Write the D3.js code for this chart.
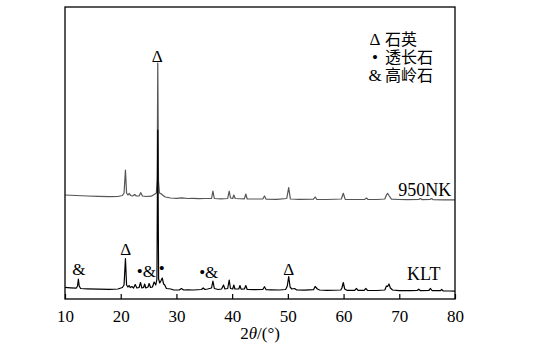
<!DOCTYPE html>
<html>
<head>
<meta charset="utf-8">
<script src="https://cdn.jsdelivr.net/npm/d3@7"></script>
<style>
    html, body { margin: 0; padding: 0; background: #fff; }
    svg { display: block; }
</style>
</head>
<body>
<div id="div-xrd"></div>
<script>
"use strict";

const SERIF = "'Liberation Serif', 'Times New Roman', serif";
const CJK = "'Noto Sans CJK SC', sans-serif";

// x axis ticks (2θ, degrees)
const xTicks = [10, 20, 30, 40, 50, 60, 70, 80];

// KLT pattern, [2θ, intensity a.u.]
const kltPattern = [
    [10, 11.7], [11, 11.2], [12.0, 10.8], [12.25, 13], [12.4, 20], [12.55, 13], [12.8, 10.5],
    [14, 10.2], [16, 9.8], [18, 9.6], [19.5, 10], [20.3, 11.5], [20.6, 14], [20.85, 40.5],
    [21.05, 14], [21.3, 12], [21.5, 13.5], [21.7, 11.5], [22.0, 12.5], [22.3, 11], [22.6, 14.5],
    [22.9, 11], [23.3, 11.5], [23.55, 16.5], [23.8, 11], [24.1, 11.5], [24.3, 15], [24.5, 11],
    [24.9, 12], [25.1, 15.5], [25.35, 11.5], [25.7, 12], [26.0, 17], [26.3, 14], [26.5, 20],
    [26.65, 169], [26.8, 20], [27.0, 16], [27.2, 18], [27.45, 21], [27.7, 15], [27.9, 14],
    [28.2, 10.5], [29, 10], [29.5, 9], [30.5, 9], [30.9, 10.5], [31.3, 9], [32, 9.2], [33, 9],
    [34.5, 9.5], [34.8, 11], [35.1, 9.5], [35.6, 10], [36.3, 11], [36.55, 18], [36.8, 10.5],
    [37.5, 9.5], [38.1, 10], [38.45, 14], [38.7, 10], [39.2, 10.5], [39.47, 19], [39.7, 10.5],
    [40.1, 10], [40.3, 14], [40.5, 10], [41.2, 10], [41.4, 13.5], [41.6, 9.8], [42.2, 10],
    [42.45, 13.5], [42.7, 9.5], [44, 9.3], [45.5, 9.5], [45.8, 12.3], [46.1, 9.3], [47, 9.2],
    [48.5, 9], [49.6, 9.5], [49.9, 13], [50.15, 22.3], [50.4, 12], [50.7, 10], [51.2, 10.5],
    [51.6, 9], [53, 8.8], [54.6, 9.3], [54.9, 12.5], [55.3, 10], [55.7, 9], [57, 8.7],
    [59.5, 9], [59.7, 11], [59.95, 16.5], [60.2, 10], [60.6, 8.7], [62, 8.7], [62.3, 10.5],
    [62.6, 8.7], [63.7, 8.7], [64.0, 10.5], [64.3, 8.7], [66, 8.5], [67.4, 9], [67.7, 13],
    [67.9, 12.5], [68.15, 15], [68.4, 11], [68.8, 9], [70, 8.3], [72, 8.3], [73.2, 8.5],
    [73.5, 9.8], [73.8, 8.3], [75.3, 8.5], [75.6, 10.5], [75.9, 8.3], [77.4, 8.3], [77.6, 9.5],
    [77.9, 8], [79, 8], [80, 7.8]
];

// 950NK pattern, stacked above KLT
const nk950Pattern = [
    [10, 104], [12, 103.5], [14, 103], [16, 102.7], [18, 102.3], [19.5, 102.5], [20.3, 103.5],
    [20.6, 106], [20.85, 129], [21.05, 106], [21.3, 104], [21.5, 105.5], [21.8, 103.5],
    [22.1, 103], [22.5, 104.5], [22.8, 103], [23.3, 103], [23.6, 106.3], [23.9, 103],
    [24.5, 102.5], [25.5, 102.8], [26.0, 104.5], [26.4, 106], [26.55, 120], [26.65, 236],
    [26.78, 118], [26.95, 106], [27.2, 105.5], [27.5, 104], [28, 102], [29, 101], [30, 100.7],
    [31, 101.2], [32, 100.5], [33, 100.7], [34, 100.3], [35, 100.5], [36.3, 100.5],
    [36.55, 108], [36.8, 100.5], [38, 100.2], [39.2, 100.5], [39.47, 108], [39.7, 101],
    [40.1, 100.5], [40.3, 104], [40.55, 100.5], [42.2, 100.2], [42.45, 105], [42.7, 100],
    [44, 100], [45.5, 100], [45.8, 103], [46.1, 99.8], [48, 99.7], [49.8, 100.5],
    [50.15, 111.3], [50.45, 100], [52, 99.7], [54.6, 99.8], [54.9, 102], [55.2, 99.7],
    [57, 99.5], [59.6, 100], [59.95, 105.7], [60.3, 99.6], [62, 99.5], [63.8, 99.6],
    [64.1, 101], [64.4, 99.5], [66, 99.5], [67.4, 100], [67.7, 104], [67.9, 105.7],
    [68.2, 103], [68.6, 99.8], [70, 99.5], [71.5, 99.3], [73.5, 99.6], [73.8, 100.5],
    [74.1, 99.3], [75.5, 99.5], [75.8, 100.5], [76.1, 99.3], [78, 99.2], [80, 99.2]
];

// series names and where their label sits [2θ, intensity]
const seriesNames = ["950NK", "KLT"];
const seriesLabelAt = [[69.8, 103], [71.4, 19]];

// phase legend
const legendSymbols = ["Δ", "•", "&"];
const legendNames = ["石英", "透长石", "高岭石"];

// peak marks: text, 2θ, intensity of the text baseline
const peakMarks = ["Δ", "&", "Δ", "•&", "•", "•&", "Δ"];
const peakTheta = [26.57, 12.5, 20.9, 24.6, 27.36, 35.8, 50.15];
const peakLevel = [237, 24, 44, 22, 25, 21, 24];

/**
 * @class
 */
class XrdChart {

    constructor(selector) {
        this.width = 544;
        this.height = 354;
        this.svg = d3.select(selector)
            .append("svg")
            .attr("width", this.width)
            .attr("height", this.height);
    }

    show() {
        const svg = this.svg;
        const left = 65, right = 455, top = 7, bottom = 299;

        const xScale = d3.scaleLinear()
            .domain([10, 80])
            .range([left, right]);
        const yScale = d3.scaleLinear()
            .domain([0, bottom - top])
            .range([bottom, top]);

        const line = d3.line()
            .x(d => xScale(d[0]))
            .y(d => yScale(d[1]));

        // 950NK first so KLT lies on top of it
        svg.append("path")
            .datum(nk950Pattern)
            .attr("fill", "none")
            .attr("stroke", "#555")
            .attr("stroke-width", 1.2)
            .attr("stroke-linejoin", "round")
            .attr("d", line);
        svg.append("path")
            .datum(kltPattern)
            .attr("fill", "none")
            .attr("stroke", "#000")
            .attr("stroke-width", 1.2)
            .attr("stroke-linejoin", "round")
            .attr("d", line);

        // frame
        svg.append("rect")
            .attr("x", left)
            .attr("y", top)
            .attr("width", right - left)
            .attr("height", bottom - top)
            .attr("fill", "none")
            .attr("stroke", "#000")
            .attr("stroke-width", 1.3);

        const xAxis = d3.axisBottom(xScale)
            .tickValues(xTicks)
            .tickSizeInner(-5)
            .tickSizeOuter(0)
            .tickPadding(11);
        const gx = svg.append("g")
            .attr("transform", `translate(0,${bottom})`)
            .call(xAxis)
            .attr("font-family", null)
            .attr("font-size", null);
        gx.select(".domain").remove();
        gx.selectAll(".tick line").attr("stroke", "#000").attr("stroke-width", 1.2);
        gx.selectAll(".tick text")
            .style("font-family", SERIF)
            .style("font-size", "17px")
            .attr("fill", "#000");

        const title = svg.append("text")
            .attr("text-anchor", "middle")
            .attr("x", (left + right) / 2)
            .attr("y", 338.5)
            .style("font-family", SERIF)
            .style("font-size", "17px");
        title.append("tspan").text("2");
        title.append("tspan").attr("font-style", "italic").text("θ");
        title.append("tspan").text("/(°)");

        // series labels
        seriesNames.forEach((name, i) => {
            svg.append("text")
                .attr("x", xScale(seriesLabelAt[i][0]))
                .attr("y", yScale(seriesLabelAt[i][1]))
                .style("font-family", SERIF)
                .style("font-size", "18px")
                .text(name);
        });

        // peak marks
        peakMarks.forEach((mark, i) => {
            svg.append("text")
                .attr("text-anchor", "middle")
                .attr("x", xScale(peakTheta[i]))
                .attr("y", yScale(peakLevel[i]))
                .style("font-family", SERIF)
                .style("font-size", "17px")
                .text(mark);
        });

        // legend, one text block per column
        const symCol = svg.append("text")
            .attr("text-anchor", "middle")
            .attr("y", 45)
            .style("font-family", SERIF)
            .style("font-size", "17px");
        symCol.selectAll("tspan")
            .data(legendSymbols)
            .join("tspan")
            .attr("x", 375)
            .attr("dy", (d, i) => i === 0 ? 0 : 18)
            .text(d => d);
        const nameCol = svg.append("text")
            .attr("y", 45)
            .style("font-family", CJK)
            .style("font-size", "16px");
        nameCol.selectAll("tspan")
            .data(legendNames)
            .join("tspan")
            .attr("x", 385)
            .attr("dy", (d, i) => i === 0 ? 0 : 18)
            .text(d => d);
    }
}

new XrdChart("#div-xrd").show();
</script>
</body>
</html>
